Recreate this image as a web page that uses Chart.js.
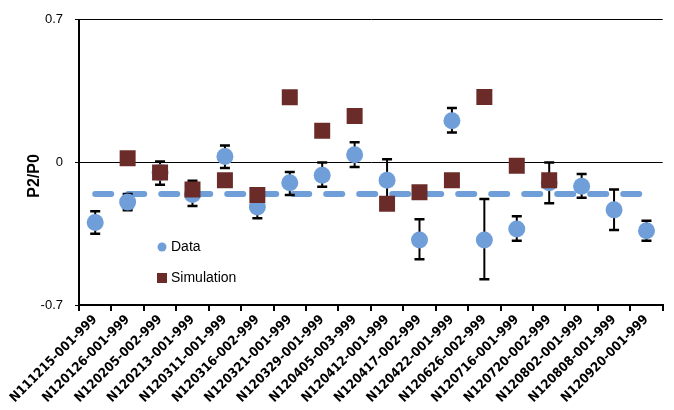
<!DOCTYPE html>
<html lang="en">
<head>
  <meta charset="UTF-8" />
  <title>P2/P0 per run</title>
  <script src="https://cdn.jsdelivr.net/npm/chart.js"></script>
  <style>
    body { margin: 0; background: #fff; }
    canvas { display: block; }
  </style>
</head>
<body>
  <canvas id="p2Chart" width="674" height="410"></canvas>

  <script>
    // run names along the x axis
    const runLabels = [
      'N111215-001-999', 'N120126-001-999', 'N120205-002-999', 'N120213-001-999',
      'N120311-001-999', 'N120316-002-999', 'N120321-001-999', 'N120329-001-999',
      'N120405-003-999', 'N120412-001-999', 'N120417-002-999', 'N120422-001-999',
      'N120626-002-999', 'N120716-001-999', 'N120720-002-999', 'N120802-001-999',
      'N120808-001-999', 'N120920-001-999'
    ];

    // measured P2/P0 and its error range
    const dataValues = [-0.295, -0.195, -0.05, -0.157, 0.029, -0.219, -0.10, -0.063, 0.037,
                        -0.088, -0.381, 0.204, -0.381, -0.327, -0.10, -0.117, -0.233, -0.335];
    const errLow  = [-0.35, -0.235, -0.11, -0.214, -0.028, -0.274, -0.16, -0.12, -0.023,
                     -0.19, -0.475, 0.147, -0.574, -0.384, -0.2, -0.174, -0.332, -0.384];
    const errHigh = [-0.24, -0.155, 0.005, -0.09, 0.083, -0.165, -0.047, 0.0, 0.099,
                     0.015, -0.279, 0.267, -0.18, -0.264, 0.0, -0.057, -0.133, -0.287];

    // simulation (no value for the first and last three runs)
    const simValues = [null, 0.02, -0.05, -0.133, -0.088, -0.16, 0.32, 0.155, 0.228,
                       -0.203, -0.146, -0.088, 0.321, -0.016, -0.088, null, null, null];

    const meanLevel = -0.155;
    const yTicks = [-0.7, 0, 0.7];

    const blue = '#6f9ed8';
    const brown = '#6b2c29';
    const labelFont = "'Liberation Sans', Arial, sans-serif";

    const errorBars = {
      id: 'errorBars',
      beforeDatasetDraw(chart, args) {
        if (args.index !== 1) return;
        const { ctx, scales: { x, y } } = chart;
        ctx.save();
        ctx.strokeStyle = '#000';
        dataValues.forEach((v, i) => {
          const px = x.getPixelForValue(i);
          const lo = y.getPixelForValue(errLow[i]);
          const hi = y.getPixelForValue(errHigh[i]);
          ctx.lineWidth = 2;
          ctx.beginPath();
          ctx.moveTo(px, lo);
          ctx.lineTo(px, hi);
          ctx.stroke();
          ctx.lineWidth = 2.5;
          ctx.beginPath();
          ctx.moveTo(px - 5, lo); ctx.lineTo(px + 5, lo);
          ctx.moveTo(px - 5, hi); ctx.lineTo(px + 5, hi);
          ctx.stroke();
        });
        ctx.restore();
      }
    };

    const extras = {
      id: 'extras',
      afterDraw(chart) {
        const ctx = chart.ctx;
        ctx.save();
        // legend inside the plot
        ctx.font = '14px ' + labelFont;
        ctx.fillStyle = '#000';
        ctx.textBaseline = 'middle';
        ctx.textAlign = 'left';
        ctx.fillText('Data', 171, 247);
        ctx.fillText('Simulation', 171, 278);
        ctx.fillStyle = blue;
        ctx.beginPath();
        ctx.arc(162, 247, 4.5, 0, Math.PI * 2);
        ctx.fill();
        ctx.fillStyle = brown;
        ctx.fillRect(157, 273, 10, 10);
        // y axis title
        ctx.translate(35, 176);
        ctx.rotate(-Math.PI / 2);
        ctx.font = 'bold 16px ' + labelFont;
        ctx.fillStyle = '#000';
        ctx.textAlign = 'center';
        ctx.fillText('P2/P0', 0, 0);
        ctx.restore();
      }
    };

    new Chart(document.getElementById('p2Chart'), {
      type: 'line',
      data: {
        labels: runLabels,
        datasets: [
          {
            label: 'Mean',
            data: [{ x: runLabels[0], y: meanLevel }, { x: runLabels[runLabels.length - 1], y: meanLevel }],
            borderColor: blue,
            borderWidth: 6,
            borderDash: [16, 17],
            borderCapStyle: 'round',
            pointRadius: 0,
            order: 3
          },
          {
            label: 'Data',
            data: dataValues,
            showLine: false,
            pointStyle: 'circle',
            pointRadius: 8.5,
            pointHoverRadius: 8.5,
            pointBackgroundColor: blue,
            pointBorderWidth: 0,
            order: 2
          },
          {
            label: 'Simulation',
            data: simValues,
            showLine: false,
            pointStyle: 'rect',
            pointRadius: 11.3,
            pointHoverRadius: 11.3,
            pointBackgroundColor: brown,
            pointBorderWidth: 0,
            order: 1
          }
        ]
      },
      options: {
        responsive: false,
        animation: false,
        devicePixelRatio: 1,
        layout: { padding: { top: 17, right: 9, left: 0, bottom: 0 } },
        plugins: { legend: { display: false }, tooltip: { enabled: false } },
        scales: {
          x: {
            type: 'category',
            offset: true,
            grid: { offset: true, drawOnChartArea: false, color: '#000', lineWidth: 2, tickLength: 6 },
            border: { color: '#000', width: 2 },
            ticks: {
              autoSkip: false,
              minRotation: 45,
              maxRotation: 45,
              padding: 1,
              color: '#000',
              font: { family: "'DejaVu Sans Condensed', 'DejaVu Sans', sans-serif", size: 13, weight: 'bold' }
            },
            afterFit(scale) { scale.height = 105; }
          },
          y: {
            min: -0.7,
            max: 0.7,
            afterBuildTicks(scale) { scale.ticks = yTicks.map(v => ({ value: v })); },
            grid: { color: '#000', lineWidth: 1, tickLength: 4 },
            border: { color: '#000', width: 2 },
            ticks: {
              padding: 12,
              color: '#000',
              font: { family: labelFont, size: 13 },
              callback: v => String(v)
            },
            afterFit(scale) { scale.width = 79; }
          }
        }
      },
      plugins: [errorBars, extras]
    });
  </script>
</body>
</html>
